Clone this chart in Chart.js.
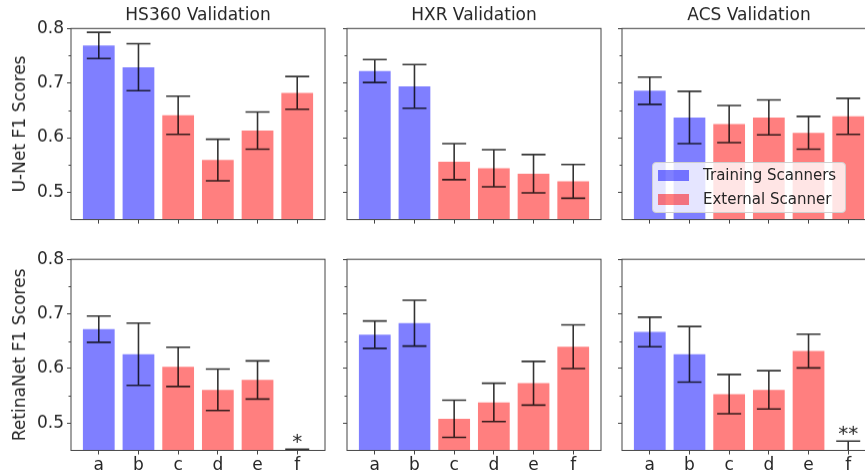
<!DOCTYPE html>
<html>
<head>
<meta charset="utf-8">
<script src="https://cdn.jsdelivr.net/npm/chart.js@4.4.1/dist/chart.umd.min.js"></script>
<style>
  html, body { margin:0; padding:0; background:#fff; width:865px; height:475px; overflow:hidden; }
  body { position:relative; font-family:'DejaVu Sans', sans-serif; color:#262626; }
  .panel { position:absolute; }
  .legend {
    position:absolute; left:652px; top:162px; width:192px; height:49px;
    background:rgba(255,255,255,0.8); border:1px solid #d0d0d0; border-radius:4px;
    font-size:15px; color:#262626;
  }
  .legend .row { position:absolute; left:5px; height:12px; display:flex; align-items:center; }
  .legend .swatch { width:31px; height:11px; margin-right:14px; flex-shrink:0; }
  .legend .label { white-space:nowrap; line-height:12px; }
</style>
</head>
<body>
<div class="legend">
  <div class="row" style="top:6px"><span class="swatch" style="background:rgba(0,0,255,0.5)"></span><span class="label">Training Scanners</span></div>
  <div class="row" style="top:30px"><span class="swatch" style="background:rgba(255,0,0,0.5)"></span><span class="label">External Scanner</span></div>
</div>
<script>
// ── Data ──────────────────────────────────────────────────────────
const categories   = ['a', 'b', 'c', 'd', 'e', 'f'];
const scannerType  = ['training', 'training', 'external', 'external', 'external', 'external'];
const columnTitles = ['HS360 Validation', 'HXR Validation', 'ACS Validation'];
const rowLabels    = ['U-Net F1 Scores', 'RetinaNet F1 Scores'];
const yMajorTicks  = [0.5, 0.6, 0.7, 0.8];
const yMinorTicks  = [0.55, 0.65, 0.75];

const unetHS360      = [0.769, 0.729, 0.641, 0.559, 0.613, 0.682];
const unetHS360Err   = [0.024, 0.043, 0.035, 0.038, 0.034, 0.030];
const unetHXR        = [0.722, 0.694, 0.556, 0.544, 0.534, 0.520];
const unetHXRErr     = [0.021, 0.040, 0.033, 0.034, 0.035, 0.031];
const unetACS        = [0.686, 0.637, 0.625, 0.637, 0.609, 0.639];
const unetACSErr     = [0.025, 0.048, 0.034, 0.032, 0.030, 0.033];
const retinaHS360    = [0.672, 0.626, 0.603, 0.561, 0.579, 0.428];
const retinaHS360Err = [0.024, 0.057, 0.036, 0.038, 0.035, 0.024];
const retinaHXR      = [0.662, 0.683, 0.508, 0.538, 0.573, 0.640];
const retinaHXRErr   = [0.025, 0.042, 0.034, 0.035, 0.040, 0.040];
const retinaACS      = [0.667, 0.626, 0.553, 0.561, 0.632, 0.440];
const retinaACSErr   = [0.027, 0.051, 0.036, 0.035, 0.031, 0.027];

const retinaHS360Notes = ['', '', '', '', '', '*'];
const retinaACSNotes   = ['', '', '', '', '', '**'];

const panels = [
  { row:0, col:0, values:unetHS360,   errors:unetHS360Err },
  { row:0, col:1, values:unetHXR,     errors:unetHXRErr },
  { row:0, col:2, values:unetACS,     errors:unetACSErr },
  { row:1, col:0, values:retinaHS360, errors:retinaHS360Err, notes:retinaHS360Notes },
  { row:1, col:1, values:retinaHXR,   errors:retinaHXRErr },
  { row:1, col:2, values:retinaACS,   errors:retinaACSErr,   notes:retinaACSNotes },
];

// ── Layout ────────────────────────────────────────────────────────
const PLOT_LEFT = [71, 346.5, 622];
const PLOT_TOP  = [28.3, 258.3];
const PLOT_W = 254, PLOT_H = 191.5, AXIS_W = 71;
const TEXT = '#262626', EDGE = '#444';
const FONT = "'DejaVu Sans', sans-serif";
const COLORS = { training:'rgba(0,0,255,0.5)', external:'rgba(255,0,0,0.5)' };
const CAP = 12;

// error bars, minor ticks, frame and asterisk notes
const panelDecor = {
  id: 'panelDecor',
  afterDatasetsDraw(chart) {
    const { ctx, chartArea: a, scales: { y } } = chart;
    const ds = chart.data.datasets[0];
    const meta = chart.getDatasetMeta(0);
    ctx.save();
    ctx.beginPath(); ctx.rect(a.left, a.top, a.width, a.height); ctx.clip();
    ctx.strokeStyle = 'rgba(0,0,0,0.8)'; ctx.lineWidth = 1.6;
    meta.data.forEach((bar, i) => {
      const v = ds.data[i].y, e = ds.errors[i];
      const hi = y.getPixelForValue(v + e), lo = y.getPixelForValue(v - e);
      ctx.beginPath();
      ctx.moveTo(bar.x, hi); ctx.lineTo(bar.x, lo);
      ctx.moveTo(bar.x - CAP, hi); ctx.lineTo(bar.x + CAP, hi);
      ctx.moveTo(bar.x - CAP, lo); ctx.lineTo(bar.x + CAP, lo);
      ctx.stroke();
    });
    ctx.restore();

    if (ds.notes) {
      ctx.save();
      ctx.fillStyle = TEXT; ctx.font = '20px ' + FONT;
      ctx.textAlign = 'center'; ctx.textBaseline = 'alphabetic';
      meta.data.forEach((bar, i) => {
        if (!ds.notes[i]) return;
        const hi = y.getPixelForValue(ds.data[i].y + ds.errors[i]);
        ctx.fillText(ds.notes[i], bar.x, Math.min(hi, a.bottom) - 1);
      });
      ctx.restore();
    }
  },
  afterDraw(chart) {
    const { ctx, chartArea: a, scales: { y } } = chart;
    ctx.save();
    ctx.strokeStyle = EDGE; ctx.lineWidth = 1;
    ctx.strokeRect(a.left, a.top, a.width, a.height);
    ctx.beginPath();
    yMinorTicks.forEach(v => {
      const py = Math.round(y.getPixelForValue(v)) + 0.5;
      ctx.moveTo(a.left - 2.5, py); ctx.lineTo(a.left, py);
    });
    ctx.stroke();
    ctx.restore();
  }
};

panels.forEach(p => {
  const top = p.row === 0 ? 0 : PLOT_TOP[1] - 12;
  const height = p.row === 0 ? PLOT_TOP[0] + PLOT_H + 12 : 12 + PLOT_H + 25;
  const div = document.createElement('div');
  div.className = 'panel';
  div.style.left = (PLOT_LEFT[p.col] - AXIS_W) + 'px';
  div.style.top = top + 'px';
  div.style.width = (AXIS_W + PLOT_W + 4) + 'px';
  div.style.height = height + 'px';
  const canvas = document.createElement('canvas');
  div.appendChild(canvas);
  document.body.insertBefore(div, document.body.firstChild);

  new Chart(canvas, {
    type: 'bar',
    data: {
      datasets: [{
        data: p.values.map((v, i) => ({ x: i, y: v })),
        errors: p.errors,
        notes: p.notes,
        backgroundColor: scannerType.map(t => COLORS[t]),
        borderWidth: 0,
        barPercentage: 0.8,
        categoryPercentage: 1.0,
      }],
    },
    options: {
      responsive: true, maintainAspectRatio: false, animation: false,
      layout: { padding: { top: p.row === 0 ? 0 : 12, right: 4, left: 0, bottom: 0 } },
      plugins: {
        legend: { display: false },
        tooltip: { enabled: false },
        title: {
          display: p.row === 0, text: columnTitles[p.col], fullSize: false,
          color: TEXT, font: { family: FONT, size: 17, weight: 'normal' },
          padding: { top: 5, bottom: 2.9 },
        },
      },
      scales: {
        x: {
          type: 'linear', min: -0.7, max: 5.7, offset: false,
          afterBuildTicks: s => { s.ticks = categories.map((c, i) => ({ value: i })); },
          afterFit: s => { s.height = p.row === 0 ? 12 : 25; },
          grid: { drawOnChartArea: false, drawTicks: true, tickLength: 4, tickColor: EDGE, offset: false },
          border: { display: false },
          ticks: {
            padding: 1, maxRotation: 0, autoSkip: false,
            color: TEXT, font: { family: FONT, size: 17 },
            callback: v => (p.row === 1 ? categories[v] : ''),
          },
        },
        y: {
          min: 0.45, max: 0.8,
          afterBuildTicks: s => { s.ticks = yMajorTicks.map(v => ({ value: v })); },
          afterFit: s => { s.width = AXIS_W; },
          grid: { drawOnChartArea: false, drawTicks: true, tickLength: 4, tickColor: EDGE },
          border: { display: false },
          ticks: {
            padding: 3, autoSkip: false,
            color: TEXT, font: { family: FONT, size: 17 },
            callback: v => (p.col === 0 ? v.toFixed(1) : ''),
          },
          title: {
            display: p.col === 0, text: rowLabels[p.row],
            color: TEXT, font: { family: FONT, size: 17 },
            padding: { top: 10, bottom: 0 },
          },
        },
      },
    },
    plugins: [panelDecor],
  });
});
</script>
</body>
</html>
